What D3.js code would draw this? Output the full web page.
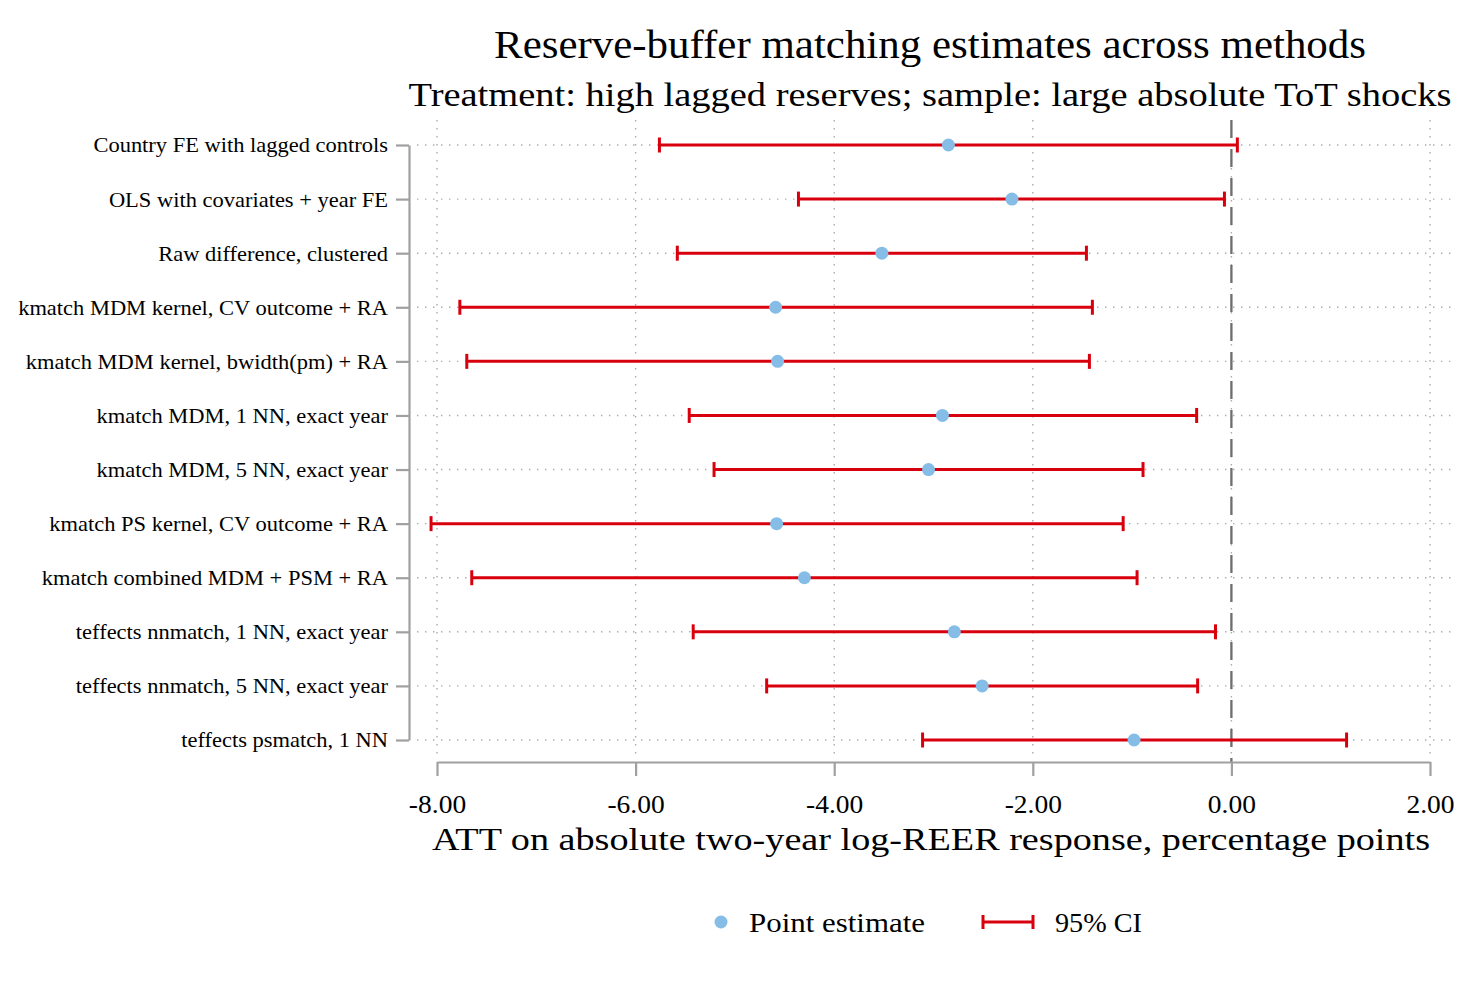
<!DOCTYPE html>
<html>
<head>
<meta charset="utf-8">
<script src="https://cdn.jsdelivr.net/npm/d3@7"></script>
<style>
  body { margin: 0; background: #fff; }
  text { font-family: "Liberation Serif", "Times New Roman", serif; fill: #000; }
</style>
</head>
<body>
<div id="chart"></div>
<script>
// data
var methods = [
  "Country FE with lagged controls",
  "OLS with covariates + year FE",
  "Raw difference, clustered",
  "kmatch MDM kernel, CV outcome + RA",
  "kmatch MDM kernel, bwidth(pm) + RA",
  "kmatch MDM, 1 NN, exact year",
  "kmatch MDM, 5 NN, exact year",
  "kmatch PS kernel, CV outcome + RA",
  "kmatch combined MDM + PSM + RA",
  "teffects nnmatch, 1 NN, exact year",
  "teffects nnmatch, 5 NN, exact year",
  "teffects psmatch, 1 NN"
];
var estimates = [-2.85, -2.21, -3.52, -4.59, -4.57, -2.91, -3.05, -4.58, -4.30, -2.79, -2.51, -0.98];
var ciLow     = [-5.76, -4.36, -5.58, -7.77, -7.70, -5.46, -5.21, -8.06, -7.65, -5.42, -4.68, -3.11];
var ciHigh    = [ 0.06, -0.07, -1.46, -1.40, -1.43, -0.35, -0.89, -1.09, -0.95, -0.16, -0.34,  1.16];
var xTicks = [-8, -6, -4, -2, 0, 2];

var titleText = "Reserve-buffer matching estimates across methods";
var subtitleText = "Treatment: high lagged reserves; sample: large absolute ToT shocks";
var xTitleText = "ATT on absolute two-year log-REER response, percentage points";

var width = 1479, height = 994;
var red = "#d9000d", blue = "#85bde7", gray = "#a0a0a0";

// Palatino is wider than the installed serif, so stretch text a little
function stretch(sel, k) {
  sel.each(function() {
    var l = this.getComputedTextLength();
    d3.select(this).attr("textLength", l * k).attr("lengthAdjust", "spacingAndGlyphs");
  });
}

var svg = d3.select("#chart")
  .append("svg")
    .attr("width", width)
    .attr("height", height);

var rows = methods.map(function(m, i) {
  return {name: m, est: estimates[i], lo: ciLow[i], hi: ciHigh[i]};
});

var x = d3.scaleLinear().domain([-8, 2]).range([437, 1430]);
var y = d3.scalePoint().domain(methods).range([145, 740]);

// grid
svg.append("g").selectAll("line")
  .data(xTicks)
  .enter().append("line")
    .attr("x1", function(d) { return x(d); })
    .attr("x2", function(d) { return x(d); })
    .attr("y1", 120).attr("y2", 758)
    .attr("stroke", "#ababab").attr("stroke-width", 1.4)
    .attr("stroke-dasharray", "1.4,6.6");

svg.append("g").selectAll("line")
  .data(methods)
  .enter().append("line")
    .attr("x1", 417).attr("x2", 1455)
    .attr("y1", function(d) { return y(d); })
    .attr("y2", function(d) { return y(d); })
    .attr("stroke", "#ababab").attr("stroke-width", 1.4)
    .attr("stroke-dasharray", "1.4,6.6");

// zero reference line
svg.append("line")
  .attr("x1", x(0)).attr("x2", x(0))
  .attr("y1", 120).attr("y2", 762)
  .attr("stroke", "#6e6e6e").attr("stroke-width", 2.3)
  .attr("stroke-dasharray", "18,11");

// Y axis
var yAxis = svg.append("g")
  .attr("transform", "translate(409,0)")
  .call(d3.axisLeft(y).tickSize(13).tickSizeOuter(0).tickPadding(8));
yAxis.select(".domain").attr("stroke", gray).attr("stroke-width", 2.2);
yAxis.selectAll(".tick line").attr("stroke", gray).attr("stroke-width", 2.2);
yAxis.selectAll("text")
  .attr("font-size", 21).attr("fill", "#000")
  .style("font-family", "'Liberation Serif', serif")
  .attr("dy", "0.33em")
  .call(stretch, 1.07);

// X axis
var xAxis = svg.append("g")
  .attr("transform", "translate(0,762)")
  .call(d3.axisBottom(x)
    .tickValues(xTicks)
    .tickFormat(function(d) { return d.toFixed(2); })
    .tickSize(14).tickSizeOuter(0).tickPadding(19));
xAxis.select(".domain").attr("stroke", gray).attr("stroke-width", 2.2);
xAxis.selectAll(".tick line").attr("stroke", gray).attr("stroke-width", 2.2);
xAxis.selectAll("text")
  .attr("font-size", 25).attr("fill", "#000")
  .style("font-family", "'Liberation Serif', serif")
  .call(stretch, 1.1);

// confidence intervals
var ci = svg.append("g").selectAll("g")
  .data(rows)
  .enter().append("g")
    .attr("stroke", red).attr("stroke-width", 3);
ci.append("line")
  .attr("x1", function(d) { return x(d.lo); })
  .attr("x2", function(d) { return x(d.hi); })
  .attr("y1", function(d) { return y(d.name); })
  .attr("y2", function(d) { return y(d.name); });
ci.append("line")
  .attr("x1", function(d) { return x(d.lo); })
  .attr("x2", function(d) { return x(d.lo); })
  .attr("y1", function(d) { return y(d.name) - 7.5; })
  .attr("y2", function(d) { return y(d.name) + 7.5; });
ci.append("line")
  .attr("x1", function(d) { return x(d.hi); })
  .attr("x2", function(d) { return x(d.hi); })
  .attr("y1", function(d) { return y(d.name) - 7.5; })
  .attr("y2", function(d) { return y(d.name) + 7.5; });

// point estimates
svg.append("g").selectAll("circle")
  .data(rows)
  .enter().append("circle")
    .attr("cx", function(d) { return x(d.est); })
    .attr("cy", function(d) { return y(d.name); })
    .attr("r", 6.5)
    .attr("fill", blue);

// titles
svg.append("text")
  .attr("x", 930).attr("y", 58)
  .attr("text-anchor", "middle").attr("font-size", 40)
  .attr("textLength", 872).attr("lengthAdjust", "spacingAndGlyphs")
  .text(titleText);
svg.append("text")
  .attr("x", 930).attr("y", 106)
  .attr("text-anchor", "middle").attr("font-size", 34)
  .attr("textLength", 1043).attr("lengthAdjust", "spacingAndGlyphs")
  .text(subtitleText);
svg.append("text")
  .attr("x", 931).attr("y", 850)
  .attr("text-anchor", "middle").attr("font-size", 32)
  .attr("textLength", 998).attr("lengthAdjust", "spacingAndGlyphs")
  .text(xTitleText);

// legend
var legend = svg.append("g");
legend.append("circle")
  .attr("cx", 721).attr("cy", 922).attr("r", 6.5).attr("fill", blue);
legend.append("text")
  .attr("x", 749).attr("y", 932).attr("font-size", 27)
  .attr("textLength", 176).attr("lengthAdjust", "spacingAndGlyphs")
  .text("Point estimate");
var lg = legend.append("g").attr("stroke", red).attr("stroke-width", 3);
lg.append("line").attr("x1", 983).attr("x2", 1033).attr("y1", 922).attr("y2", 922);
lg.append("line").attr("x1", 983).attr("x2", 983).attr("y1", 915).attr("y2", 929);
lg.append("line").attr("x1", 1033).attr("x2", 1033).attr("y1", 915).attr("y2", 929);
legend.append("text")
  .attr("x", 1055).attr("y", 932).attr("font-size", 27)
  .attr("textLength", 87).attr("lengthAdjust", "spacingAndGlyphs")
  .text("95% CI");
</script>
</body>
</html>
